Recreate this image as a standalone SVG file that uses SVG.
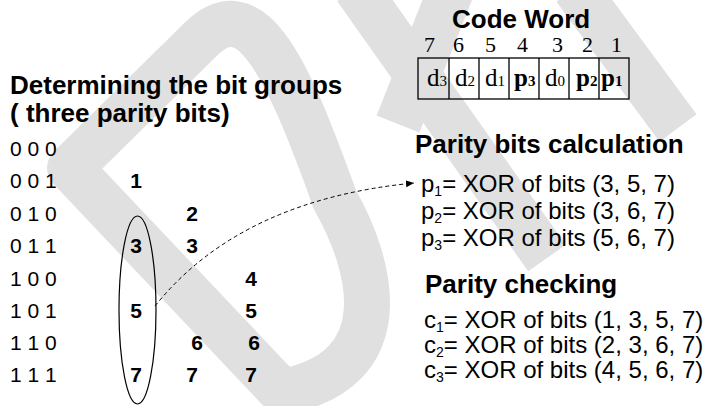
<svg xmlns="http://www.w3.org/2000/svg" width="704" height="406" viewBox="0 0 704 406">
<defs>
<marker id="arr" markerWidth="9" markerHeight="8" refX="8" refY="3.5" orient="auto" markerUnits="userSpaceOnUse"><path d="M0,0 L8,3.5 L0,7 Z" fill="#000"/></marker>
<style>
.h{font-family:"Liberation Sans",Arial,sans-serif;font-weight:bold;font-size:26px;fill:#000}
.b{font-family:"Liberation Sans",Arial,sans-serif;font-size:21px;fill:#000}
.n{font-family:"Liberation Sans",Arial,sans-serif;font-weight:bold;font-size:21px;fill:#000;text-anchor:middle}
.f{font-family:"Liberation Sans",Arial,sans-serif;font-size:24px;fill:#000}
.t{font-family:"Liberation Serif","Times New Roman",serif;font-size:25px;fill:#000}
.tb{font-family:"Liberation Serif","Times New Roman",serif;font-size:25px;font-weight:bold;fill:#000}
.d{font-family:"Liberation Serif","Times New Roman",serif;font-size:22px;fill:#000}
.s{font-size:15px}
.fs{font-size:14px}
.wm{fill:none;stroke:#e0e0e0;stroke-width:46}
.cell{fill:none;stroke:#000;stroke-width:1.3}
</style>
</defs>
<rect width="704" height="406" fill="#fff"/>
<g id="watermark">
<path class="wm" stroke-linejoin="round" d="M282,392 L70,168 L200,40 C250,-10 285,60 335,200 C372,265 400,370 282,392 Z"/>
<line class="wm" x1="356" y1="-12" x2="547" y2="258"/>
<line class="wm" x1="452" y1="-12" x2="398" y2="124" stroke-width="40"/>
<line class="wm" x1="575" y1="-12" x2="678" y2="128" stroke-width="50"/>
</g>
<g id="codeword">
<text class="h" x="452" y="28">Code Word</text>
<text class="d" x="424" y="52">7</text>
<text class="d" x="453" y="52">6</text>
<text class="d" x="485" y="52">5</text>
<text class="d" x="517" y="52">4</text>
<text class="d" x="552" y="52">3</text>
<text class="d" x="582" y="52">2</text>
<text class="d" x="611" y="52">1</text>
<rect class="cell" x="418" y="58" width="211" height="41"/>
<path class="cell" d="M449,58V99M479,58V99M509,58V99M539,58V99M569,58V99M599,58V99"/>
<text class="t" x="427" y="86">d<tspan class="s">3</tspan></text>
<text class="t" x="455" y="86">d<tspan class="s">2</tspan></text>
<text class="t" x="485" y="86">d<tspan class="s">1</tspan></text>
<text class="tb" x="514" y="86">p<tspan class="s">3</tspan></text>
<text class="t" x="545" y="86">d<tspan class="s">0</tspan></text>
<text class="tb" x="576" y="86">p<tspan class="s">2</tspan></text>
<text class="tb" x="601" y="86">p<tspan class="s">1</tspan></text>
</g>
<g id="bitgroups">
<text class="h" x="10" y="94">Determining the bit groups</text>
<text class="h" x="10" y="122">( three parity bits)</text>
<text class="b" x="10" y="156">0 0 0</text>
<text class="b" x="10" y="188">0 0 1</text>
<text class="b" x="10" y="221">0 1 0</text>
<text class="b" x="10" y="253">0 1 1</text>
<text class="b" x="10" y="286">1 0 0</text>
<text class="b" x="10" y="318">1 0 1</text>
<text class="b" x="10" y="350">1 1 0</text>
<text class="b" x="10" y="382">1 1 1</text>
<text class="n" x="136" y="188">1</text>
<text class="n" x="136" y="253">3</text>
<text class="n" x="136" y="318">5</text>
<text class="n" x="136" y="382">7</text>
<text class="n" x="192" y="221">2</text>
<text class="n" x="192" y="253">3</text>
<text class="n" x="197" y="350">6</text>
<text class="n" x="192" y="382">7</text>
<text class="n" x="251" y="286">4</text>
<text class="n" x="251" y="318">5</text>
<text class="n" x="254" y="350">6</text>
<text class="n" x="251" y="382">7</text>
</g>
<g id="group-ellipse">
<ellipse cx="137.5" cy="310" rx="18.5" ry="94" fill="none" stroke="#000" stroke-width="1.2"/>
</g>
<g id="parity-calc">
<text class="h" x="415" y="153">Parity bits calculation</text>
<text class="f" x="421" y="192">p<tspan class="fs" dy="4">1</tspan><tspan dy="-4">= XOR of bits (3, 5, 7)</tspan></text>
<text class="f" x="421" y="219">p<tspan class="fs" dy="4">2</tspan><tspan dy="-4">= XOR of bits (3, 6, 7)</tspan></text>
<text class="f" x="421" y="246">p<tspan class="fs" dy="4">3</tspan><tspan dy="-4">= XOR of bits (5, 6, 7)</tspan></text>
</g>
<g id="parity-check">
<text class="h" x="425" y="293">Parity checking</text>
<text class="f" x="424" y="328">c<tspan class="fs" dy="4">1</tspan><tspan dy="-4">= XOR of bits (1, 3, 5, 7)</tspan></text>
<text class="f" x="424" y="353">c<tspan class="fs" dy="4">2</tspan><tspan dy="-4">= XOR of bits (2, 3, 6, 7)</tspan></text>
<text class="f" x="424" y="378">c<tspan class="fs" dy="4">3</tspan><tspan dy="-4">= XOR of bits (4, 5, 6, 7)</tspan></text>
</g>
<g id="connectors">
<path d="M155,306 Q240,200 414,183" fill="none" stroke="#000" stroke-width="1" stroke-dasharray="4,3" marker-end="url(#arr)"/>
</g>
</svg>
